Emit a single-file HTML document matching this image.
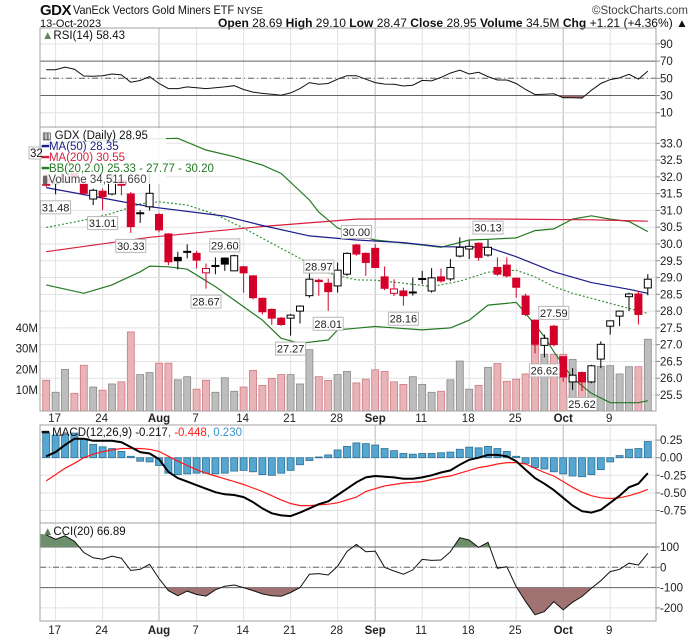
<!DOCTYPE html>
<html><head><meta charset="utf-8"><style>
html,body{margin:0;padding:0;background:#fff;}
svg{display:block;font-family:"Liberation Sans",sans-serif;}
</style></head><body>
<svg id="chart" width="700" height="639" viewBox="0 0 700 639" xmlns="http://www.w3.org/2000/svg">
<rect x="0" y="0" width="700" height="639" fill="#fff"/>
<g>
<text x="40" y="15" font-size="15" font-weight="bold" fill="#111" style="letter-spacing:-0.5px">GDX</text>
<text x="73" y="14" font-size="12" fill="#111" textLength="190" lengthAdjust="spacingAndGlyphs">VanEck Vectors Gold Miners ETF <tspan font-size="10.5">NYSE</tspan></text>
<text x="688" y="14" font-size="11.5" fill="#444" text-anchor="end">©StockCharts.com</text>
<text x="40" y="27" font-size="11" fill="#111">13-Oct-2023</text>
<text x="218" y="27" font-size="11.5" fill="#111" textLength="470" lengthAdjust="spacingAndGlyphs"><tspan font-weight="bold">Open</tspan> 28.69 <tspan font-weight="bold">High</tspan> 29.10 <tspan font-weight="bold">Low</tspan> 28.47 <tspan font-weight="bold">Close</tspan> 28.95 <tspan font-weight="bold">Volume</tspan> 34.5M <tspan font-weight="bold">Chg</tspan> +1.21 (+4.36%) ▲</text>
</g>
<g id="grid"></g>
<g id="vol"></g>
<g id="lines"></g>
<g id="candles"></g>
<g id="annot"></g>
<g id="frames"></g>
<g id="legend"></g>
</svg>
<script>
// ---------- data ----------
const dayLabels = ["17","24","Aug","7","14","21","28","Sep","11","18","25","Oct","9"];
const dayLabelIdx = [1,6,12,16,21,26,31,35,40,45,50,55,60];
const majorLabels = ["Aug","Sep","Oct"];
const openP  = [31.95,31.80,31.85,32.25,31.81,31.34,31.57,31.49,31.90,31.49,30.93,31.11,30.88,30.30,29.60,29.76,29.72,29.14,29.34,29.58,29.20,29.32,29.05,28.38,28.05,27.79,27.79,28.00,28.46,28.92,28.83,28.75,29.10,29.97,29.72,29.87,29.02,28.53,28.60,28.54,28.95,28.60,29.02,28.96,29.64,29.85,30.02,29.67,29.30,29.37,28.98,28.45,27.73,26.98,27.55,26.64,25.89,26.17,25.89,26.57,27.55,27.85,28.43,28.51,28.69];
const highP  = [32.20,31.95,32.30,32.40,31.95,31.65,31.65,32.10,31.95,31.55,31.01,32.15,30.92,30.32,29.77,29.99,29.80,29.42,29.60,29.60,29.68,29.35,29.07,28.40,28.08,27.82,27.92,28.17,29.17,28.97,28.97,29.45,29.75,30.00,29.75,30.00,29.33,28.95,28.70,29.00,29.20,29.28,29.27,29.55,30.20,30.10,30.05,30.13,29.60,29.60,29.00,28.52,27.75,27.30,27.59,26.66,26.30,26.20,26.40,27.10,27.72,28.02,28.55,28.60,29.10];
const lowP   = [31.70,31.48,31.80,31.95,31.45,31.16,31.01,31.45,31.45,30.33,30.63,31.00,30.35,29.37,29.24,29.57,29.27,28.67,29.10,29.20,29.20,28.55,28.35,27.90,27.59,27.56,27.27,27.63,28.40,28.46,28.01,28.55,29.05,29.65,29.05,29.30,28.62,28.45,28.16,28.46,28.80,28.55,28.85,28.90,29.60,29.55,29.50,29.62,29.05,29.00,28.40,27.85,26.74,26.62,26.95,25.90,25.65,25.62,25.85,26.30,27.30,27.55,28.00,27.60,28.47];
const closeP = [31.75,31.84,32.20,32.00,31.51,31.60,31.41,31.86,31.75,30.52,30.91,31.51,30.42,29.47,29.50,29.78,29.52,29.27,29.36,29.40,29.65,29.14,28.40,27.98,27.79,27.60,27.88,28.15,28.95,28.88,28.58,29.22,29.72,29.70,29.45,29.30,28.68,28.66,28.46,28.57,28.97,28.99,28.90,29.30,29.90,29.93,29.60,29.90,29.10,29.05,28.71,27.90,27.01,27.19,27.00,26.04,26.09,25.89,26.37,27.01,27.71,28.00,28.51,27.90,28.95];
const volumeM = [14.8,9,20,8.5,22,11.5,10,13,14,38,17.5,18.5,23,23,15,16.5,10.5,14.8,9,16,9.5,11.5,19.5,12.3,15.7,17.5,17.5,13,29.5,16.5,14.7,17.5,19,13.5,15.3,19.8,19,14,12.8,16.5,12.8,9,9.5,15,24,10.5,12.3,21,22.8,14.3,15.3,17.8,31.5,27.3,27.3,27.3,24.8,15,15,21.5,21.8,17.8,21.3,21.3,34.5];
const ma50Idx = [0,11,19,23,28,33,38,42,47,50,54,58,62,64];
const ma50Val = [31.68,31.11,30.83,30.55,30.24,30.12,30.04,29.92,29.90,29.62,29.17,28.85,28.65,28.53];
const ma200Idx = [0,11,23,33,45,58,64];
const ma200Val = [29.77,30.20,30.52,30.74,30.75,30.72,30.68];
const bbUpIdx = [0,7,14,17,20,23,25,28,29,31,33,35,40,42,45,47,50,52,54,56,58,60,62,64];
const bbUpVal = [33.0,33.1,33.15,32.8,32.6,32.35,32.1,31.31,30.95,30.48,30.27,30.12,29.97,29.9,30.12,30.14,30.18,30.4,30.45,30.74,30.84,30.74,30.67,30.37];
const bbLoIdx = [0,4,7,10,11,13,15,18,21,23,25,27,30,31,33,35,40,43,45,47,50,51,53,54,56,58,60,63,64];
const bbLoVal = [28.78,28.53,28.78,29.17,29.34,29.32,29.25,28.73,28.13,27.73,27.19,27.04,27.14,27.44,27.49,27.54,27.44,27.5,27.73,28.18,28.26,27.93,27.24,26.79,26.0,25.55,25.27,25.27,25.33];
const bbMidIdx = [0,4,7,10,12,15,18,21,24,27,30,33,35,38,41,44,47,50,52,54,56,58,60,62,64];
const bbMidVal = [30.49,30.71,30.91,31.19,31.26,31.16,30.88,30.47,30.02,29.57,29.13,28.93,28.92,28.83,28.73,28.89,29.16,29.22,29.02,28.73,28.53,28.38,28.23,28.08,27.93];
const rsiVal = [60,60,63,60.6,52.7,52.3,53,55,54,45.5,47.5,52,44,38,38,40,39,38,39,40,41.4,37,34,32.4,31.5,30.4,33,38,45,43,44,49,53,53,49,45,43.3,43,41,42,47.6,47,51,56,59.4,55,57,52,48,48,44,37,31,31.5,32,27.5,27.3,27,36,44,48.5,50.5,54.7,49,58.4];
const macdVal = [0.02,0.08,0.18,0.27,0.27,0.24,0.24,0.24,0.22,0.15,0.08,0.06,-0.02,-0.2,-0.29,-0.34,-0.39,-0.44,-0.49,-0.52,-0.53,-0.56,-0.63,-0.72,-0.79,-0.82,-0.83,-0.78,-0.72,-0.66,-0.62,-0.53,-0.44,-0.35,-0.28,-0.26,-0.27,-0.28,-0.30,-0.30,-0.28,-0.25,-0.21,-0.18,-0.10,-0.03,0.00,0.04,0.04,0.02,-0.05,-0.17,-0.29,-0.37,-0.46,-0.57,-0.68,-0.76,-0.78,-0.74,-0.64,-0.54,-0.42,-0.37,-0.22];
const signalVal = [-0.33,-0.24,-0.15,-0.08,0.0,0.05,0.085,0.11,0.13,0.13,0.13,0.12,0.09,0.02,-0.05,-0.11,-0.17,-0.22,-0.26,-0.30,-0.34,-0.38,-0.43,-0.48,-0.54,-0.60,-0.65,-0.68,-0.68,-0.67,-0.66,-0.64,-0.60,-0.56,-0.48,-0.44,-0.40,-0.38,-0.36,-0.35,-0.34,-0.31,-0.28,-0.26,-0.22,-0.18,-0.14,-0.12,-0.09,-0.07,-0.07,-0.09,-0.15,-0.21,-0.26,-0.34,-0.42,-0.49,-0.54,-0.57,-0.58,-0.57,-0.54,-0.50,-0.45];
const cciVal = [160,138,155,128,73,47,40,55,45,-16,-10,15,-55,-115,-140,-117,-134,-142,-111,-93,-87,-100,-115,-131,-140,-143,-124,-100,-34,-31,-38,5,78,113,77,80,0,-18,-34,-13,39,34,36,77,146,134,98,123,-5,3,-95,-169,-234,-218,-169,-210,-172,-144,-103,-66,-21,-10,20,11,69];
const annotIdx = [1,6,9,19,17,29,30,26,33,38,47,54,53,57];
const annotVal = ["31.48","31.01","30.33","29.60","28.67","28.97","28.01","27.27","30.00","28.16","30.13","27.59","26.62","25.62"];
const annotAbove = [false,false,false,true,false,true,false,false,true,false,true,true,false,false];
const priceTicks = ["25.5","26.0","26.5","27.0","27.5","28.0","28.5","29.0","29.5","30.0","30.5","31.0","31.5","32.0","32.5","33.0"];
const volTicks = ["10M","20M","30M","40M"];
const rsiTicks = ["90","70","50","30","10"];
const macdTicks = ["0.25","0.00","-0.25","-0.50","-0.75"];
const cciTicks = ["100","0","-100","-200"];

// ---------- geometry / axes ----------
const NS = "http://www.w3.org/2000/svg";
const L = 40, R = 656;
const P = {rsi:[28,127], price:[127,411], macd:[425,523], cci:[523,621]};
const xOf = i => 46.2 + 9.4*i;
const pY = p => 143.3 + (33 - p)*33.56;
const vY = v => 411 - v*2.08;
const rY = r => 78.3 - (r-50)*0.86;
const mY = m => 457.7 - m*70.4;
const cY = c => 567.3 - c*0.203;
const svg = document.getElementById('chart');
function mk(tag, attrs, parent){ const e=document.createElementNS(NS,tag); for(const k in attrs) e.setAttribute(k, attrs[k]); parent.appendChild(e); return e; }
const gGrid = document.getElementById('grid'), gVol = document.getElementById('vol'), gLines = document.getElementById('lines'),
      gC = document.getElementById('candles'), gA = document.getElementById('annot'), gF = document.getElementById('frames'), gLeg = document.getElementById('legend');

Object.values(P).forEach(([t,b]) => {
  dayLabelIdx.forEach((di,k) => {
    const major = majorLabels.includes(dayLabels[k]);
    const ln = mk('line',{x1:xOf(di),x2:xOf(di),y1:t,y2:b,stroke: major?'#b8b8b8':'#e2e2e2','stroke-width':1}, gGrid);
    
    
  });
});
function hTicks(vals, yf, top, bot){
  vals.forEach(s => {
    const y = yf(parseFloat(s));
    if (y < top || y > bot) return;
    const ln = mk('line',{x1:L,x2:R,y1:y,y2:y,stroke:'#e2e2e2'}, gGrid);
    
    
    const tk = mk('line',{x1:R,x2:R+4,y1:y,y2:y,stroke:'#888'}, gGrid);
    
    
    const t = mk('text',{x:R+4,y:y+4,'font-size':11.5,fill:'#222'}, gGrid);
    t.textContent = s;
    
    
  });
}
hTicks(priceTicks, pY, 130, 411);
hTicks(rsiTicks, rY, 28, 127);
hTicks(macdTicks, mY, 425, 523);
hTicks(cciTicks, cY, 523, 621);
volTicks.forEach(s => {
  const y = vY(parseFloat(s));
  const t = mk('text',{x:38,y:y+4,'font-size':11.5,fill:'#222','text-anchor':'end'}, gGrid);
  t.textContent = s;
  
  
});
[422,634].forEach(yy => {
  dayLabelIdx.forEach((di,k) => {
    const major = majorLabels.includes(dayLabels[k]);
    const t = mk('text',{x:xOf(di)+(major?0:-1),y:yy,'font-size':11.5,'text-anchor':'middle',fill:'#222','font-weight':major?'bold':'normal'}, gGrid);
    t.textContent = dayLabels[k];
    
    
  });
});

function refLine(y, dash, name, g){
  const ln = mk('line',{x1:L,x2:R,y1:y,y2:y,stroke:'#666','stroke-width':1,'stroke-dasharray':dash||''}, g);
  
  
}

volumeM.forEach((v,i) => {
  const prev = i>0 ? closeP[i-1] : openP[i];
  const down = closeP[i] < prev;
  const r = mk('rect',{x:xOf(i)-3.5,y:vY(v),width:7,height:411-vY(v),fill:down?'#e8b4b8':'#bdbdbd',stroke:down?'#d07880':'#8a8a8a','stroke-width':0.8}, gVol);
  
  
});

function pts(idx, vals, yf){ return idx.map((ix,k) => xOf(ix).toFixed(1)+','+yf(vals[k]).toFixed(1)).join(' '); }
const allIdx = closeP.map((_,i)=>i);
const bbU = mk('polyline',{points:pts(bbUpIdx,bbUpVal,pY),fill:'none',stroke:'#237a23','stroke-width':1.2}, gLines);


const bbL = mk('polyline',{points:pts(bbLoIdx,bbLoVal,pY),fill:'none',stroke:'#237a23','stroke-width':1.2}, gLines);


const bbM = mk('polyline',{points:pts(bbMidIdx,bbMidVal,pY),fill:'none',stroke:'#3a913a','stroke-width':1.2,'stroke-dasharray':'2,2'}, gLines);


const m200 = mk('polyline',{points:pts(ma200Idx,ma200Val,pY),fill:'none',stroke:'#d81e3c','stroke-width':1.2}, gLines);


const m50 = mk('polyline',{points:pts(ma50Idx,ma50Val,pY),fill:'none',stroke:'#1c1c8a','stroke-width':1.2}, gLines);



closeP.forEach((c,i) => {
  const o = openP[i], prev = i>0 ? closeP[i-1] : o;
  const col = c < prev ? '#d4002a' : '#000';
  const x = xOf(i);
  const w = mk('line',{x1:x,x2:x,y1:pY(highP[i]),y2:pY(lowP[i]),stroke:col,'stroke-width':1}, gC);
  
  
  const top = pY(Math.max(o,c)), bot = pY(Math.min(o,c));
  const hollow = c >= o;
  const b = mk('rect',{x:x-3.5,y:top,width:7,height:Math.max(1,bot-top),fill:hollow?'#fff':col,stroke:col,'stroke-width':1}, gC);
  
  
});

annotIdx.forEach((ix,k) => {
  const s = annotVal[k];
  const p = parseFloat(s);
  const above = annotAbove[k];
  const cy = above ? pY(p) - 12 : pY(p) + 13;
  const w = 30, x = xOf(ix) - w/2;
  const r = mk('rect',{x:x,y:cy-6.5,width:w,height:13,fill:'#fff',stroke:'#b8b8b8'}, gA);
  
  
  const t = mk('text',{x:xOf(ix),y:cy+4,'font-size':11,'text-anchor':'middle',fill:'#222'}, gA);
  t.textContent = s;
  
  
});

// RSI
refLine(rY(70),'', 'rsi-overbought-line', gLines);
refLine(rY(30),'', 'rsi-oversold-line', gLines);
refLine(rY(50),'6,3,1,3', 'rsi-midline', gLines);
const rsiPts = pts(allIdx, rsiVal, rY);
const cpR = mk('clipPath',{id:'clipRsiLo'}, svg);
mk('rect',{x:L,y:rY(30),width:R-L,height:40}, cpR);
const rf = mk('polygon',{points:xOf(0)+','+rY(30)+' '+rsiPts+' '+xOf(64)+','+rY(30),fill:'#a06a6a','clip-path':'url(#clipRsiLo)'}, gLines);


const rl = mk('polyline',{points:rsiPts,fill:'none',stroke:'#111','stroke-width':1}, gLines);



// MACD
macdVal.forEach((m,i) => {
  const h = m - signalVal[i];
  const y0 = mY(0), y1 = mY(h);
  const r = mk('rect',{x:xOf(i)-3.5,y:Math.min(y0,y1),width:7,height:Math.max(0.8,Math.abs(y1-y0)),fill:'#55a6d0',stroke:'#2d6f94','stroke-width':0.8}, gLines);
  
  
});
const sl = mk('polyline',{points:pts(allIdx,signalVal,mY),fill:'none',stroke:'#ff1a1a','stroke-width':1.2}, gLines);


const ml = mk('polyline',{points:pts(allIdx,macdVal,mY),fill:'none',stroke:'#000','stroke-width':2}, gLines);



// CCI
refLine(cY(100),'', 'cci-upper-line', gLines);
refLine(cY(-100),'', 'cci-lower-line', gLines);
refLine(cY(0),'6,3,1,3', 'cci-zero-line', gLines);
const cciPts = pts(allIdx, cciVal, cY);
const cpHi = mk('clipPath',{id:'clipCciHi'}, svg);
mk('rect',{x:L,y:523,width:R-L,height:cY(100)-523}, cpHi);
const cpLo = mk('clipPath',{id:'clipCciLo'}, svg);
mk('rect',{x:L,y:cY(-100),width:R-L,height:621-cY(-100)}, cpLo);
const cf1 = mk('polygon',{points:L+','+cY(100)+' '+L+','+cY(165)+' '+cciPts+' '+xOf(64)+','+cY(100),fill:'#6e8f6b','clip-path':'url(#clipCciHi)'}, gLines);


const cf2 = mk('polygon',{points:xOf(0)+','+cY(-100)+' '+cciPts+' '+xOf(64)+','+cY(-100),fill:'#a07272','clip-path':'url(#clipCciLo)'}, gLines);


const cl = mk('polyline',{points:cciPts,fill:'none',stroke:'#111','stroke-width':1}, gLines);



Object.entries(P).forEach(([k,[t,b]]) => {
  const f = mk('rect',{x:L,y:t,width:R-L,height:b-t,fill:'none',stroke:'#a0a0a0','stroke-width':1}, gF);
  
  
});

function legText(x,y,html,name){
  const t = mk('text',{x:x,y:y,'font-size':11.5,fill:'#111'}, gLeg);
  t.innerHTML = html;
  
  
  return t;
}
const lb = mk('rect',{x:41,y:128,width:125,height:56,fill:'#fff','fill-opacity':0.85}, gLeg);


const lb2 = mk('rect',{x:41,y:161,width:190,height:12,fill:'#fff','fill-opacity':0.85}, gLeg);


legText(42,39,'<tspan fill="#5a8a5a">▲</tspan>RSI(14) 58.43','rsi-legend');
legText(42,139,'<tspan font-size="10">▥</tspan> GDX (Daily) 28.95','price-legend');
legText(42,150,'<tspan fill="#1c1c8a" font-weight="bold">━</tspan><tspan fill="#1c1c8a">MA(50) 28.35</tspan>','ma50-legend');
legText(42,161,'<tspan fill="#d81e3c" font-weight="bold">━</tspan><tspan fill="#d81e3c">MA(200) 30.55</tspan>','ma200-legend');
legText(42,172,'<tspan fill="#237a23" font-weight="bold">━</tspan><tspan fill="#237a23">BB(20,2.0) 25.33 - 27.77 - 30.20</tspan>','bollinger-legend');
legText(42,183,'<tspan fill="#666">▮</tspan><tspan fill="#444">Volume 34,511,660</tspan>','volume-legend');
const pb = mk('rect',{x:29,y:147,width:12,height:12,fill:'#fff',stroke:'#b8b8b8'}, gLeg);


legText(30,157,'32','left-price-marker');
legText(42,436,'<tspan font-weight="bold">━</tspan> MACD(12,26,9) -0.217<tspan fill="#ff1a1a">, -0.448</tspan><tspan fill="#3a93c8">, 0.230</tspan>','macd-legend');
legText(42,535,'<tspan fill="#5a7a5a">▲</tspan>CCI(20) 66.89','cci-legend');
</script>
</body></html>
